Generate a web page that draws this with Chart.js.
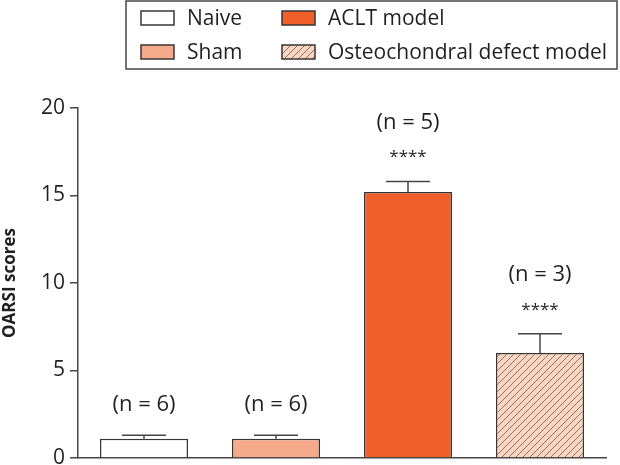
<!DOCTYPE html>
<html>
<head>
<meta charset="utf-8">
<script src="https://cdn.jsdelivr.net/npm/chart.js@4.4.1/dist/chart.umd.min.js"></script>
<style>
  html, body { margin: 0; padding: 0; background: #fff; }
  #wrap { width: 620px; height: 465px; position: relative; }
</style>
</head>
<body>
<div id="wrap"><canvas id="c" width="620" height="465"></canvas></div>
<script>
// ---- data ----
const categories = ['Naive', 'Sham', 'ACLT model', 'Osteochondral defect model'];
const scores = [1.1, 1.1, 15.2, 6.0];
const sem = [0.2, 0.2, 0.6, 1.1];
const nLabels = ['(n = 6)', '(n = 6)', '(n = 5)', '(n = 3)'];
const stars = ['', '', '****', '****'];
const yTicks = [0, 5, 10, 15, 20];

const FONT = "'Open Sans', 'Noto Sans', sans-serif";
const TEXT = '#231f20';
const EDGE = '#3a3535';

function hatch() {
  const s = 7;
  const p = document.createElement('canvas');
  p.width = s; p.height = s;
  const g = p.getContext('2d');
  g.fillStyle = '#f9d5c3';
  g.fillRect(0, 0, s, s);
  g.strokeStyle = '#8c6457';
  g.lineWidth = 0.9;
  g.beginPath();
  g.moveTo(-1, s + 1); g.lineTo(s + 1, -1);
  g.moveTo(-1, 1); g.lineTo(1, -1);
  g.moveTo(s - 1, s + 1); g.lineTo(s + 1, s - 1);
  g.stroke();
  return g.createPattern(p, 'repeat');
}
const fills = ['#ffffff', '#f5ab8b', '#f05f2a', hatch()];

const extras = {
  id: 'extras',
  afterDatasetsDraw(chart) {
    const ctx = chart.ctx;
    const meta = chart.getDatasetMeta(0);
    const y = chart.scales.y;
    ctx.save();
    meta.data.forEach((bar, i) => {
      const top = y.getPixelForValue(scores[i]);
      const cap = y.getPixelForValue(scores[i] + sem[i]);
      const half = bar.width / 4;
      ctx.strokeStyle = '#4a4545';
      ctx.lineWidth = 1.5;
      ctx.beginPath();
      ctx.moveTo(bar.x, top); ctx.lineTo(bar.x, cap);
      ctx.moveTo(bar.x - half, cap); ctx.lineTo(bar.x + half, cap);
      ctx.stroke();
      ctx.fillStyle = TEXT;
      ctx.textAlign = 'center';
      ctx.textBaseline = 'middle';
      if (stars[i]) {
        ctx.font = '17px ' + FONT;
        ctx.fillText(stars[i], bar.x, cap - 24);
        ctx.font = '22px ' + FONT;
        ctx.fillText(nLabels[i], bar.x, cap - 59);
      } else {
        ctx.font = '22px ' + FONT;
        ctx.fillText(nLabels[i], bar.x, cap - 31);
      }
    });
    // legend
    ctx.strokeStyle = '#4a4545';
    ctx.lineWidth = 1.5;
    ctx.strokeRect(126, 1, 491, 68);
    const cols = [141, 282];
    const rows = [18, 52];
    const order = [[0, 0, 0], [1, 0, 1], [2, 1, 0], [3, 1, 1]];
    ctx.font = '21px ' + FONT;
    ctx.textAlign = 'left';
    ctx.textBaseline = 'middle';
    order.forEach(([i, c, r]) => {
      const x = cols[c], yy = rows[r];
      ctx.fillStyle = fills[i];
      ctx.fillRect(x, yy - 7, 33, 14);
      ctx.strokeStyle = EDGE;
      ctx.lineWidth = 1.5;
      ctx.strokeRect(x, yy - 7, 33, 14);
      ctx.fillStyle = TEXT;
      ctx.fillText(categories[i], x + 46, yy + 1);
    });
    ctx.restore();
  }
};

new Chart(document.getElementById('c'), {
  type: 'bar',
  data: {
    labels: categories,
    datasets: [{
      data: scores,
      backgroundColor: fills,
      borderColor: EDGE,
      borderWidth: 1.5,
      borderSkipped: 'bottom',
      barPercentage: 0.667,
      categoryPercentage: 1.0
    }]
  },
  options: {
    responsive: false,
    animation: false,
    devicePixelRatio: 1,
    layout: { padding: { left: 0, right: 14, top: 108, bottom: 7 } },
    plugins: { legend: { display: false }, tooltip: { enabled: false } },
    scales: {
      x: {
        ticks: { display: false },
        grid: { display: false },
        border: { display: true, color: '#4a4545', width: 1.5 },
        afterFit: s => { s.height = 0; }
      },
      y: {
        min: 0, max: 20,
        afterBuildTicks: s => { s.ticks = yTicks.map(v => ({ value: v })); },
        ticks: { color: TEXT, font: { family: FONT, size: 21 }, padding: 5 },
        grid: { display: true, drawOnChartArea: false, drawTicks: true, tickLength: 8, color: '#4a4545', lineWidth: 1.5 },
        border: { display: true, color: '#4a4545', width: 1.5 },
        title: { display: true, text: 'OARSI scores', color: TEXT, font: { family: FONT, size: 17, weight: 'bold' }, padding: { top: 0, bottom: 0 } },
        afterFit: s => { s.width = 78; s.paddingTop = 0; s.paddingBottom = 0; }
      }
    }
  },
  plugins: [extras]
});
</script>
</body>
</html>
